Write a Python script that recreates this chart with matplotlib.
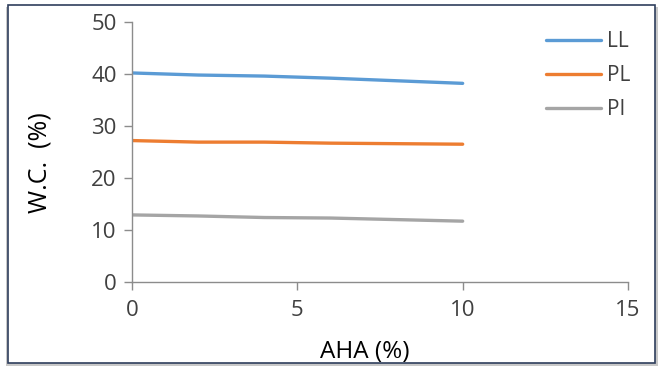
import matplotlib
matplotlib.use("Agg")
import matplotlib.pyplot as plt
from matplotlib.patches import Rectangle

plt.rcParams['font.family'] = ['Open Sans', 'DejaVu Sans']

aha = [0, 2, 4, 6, 8, 10]
ll = [40.2, 39.8, 39.6, 39.2, 38.7, 38.2]
pl = [27.2, 26.9, 26.9, 26.7, 26.6, 26.5]
pi = [12.9, 12.7, 12.4, 12.3, 12.0, 11.7]
series = [("LL", ll, "#5B9BD5"), ("PL", pl, "#ED7D31"), ("PI", pi, "#A5A5A5")]

fig = plt.figure(figsize=(6.64, 3.70), dpi=100)
W, H = 664, 370
ax = fig.add_axes([132 / W, 1 - 282 / H, (628 - 132) / W, (282 - 22) / H])

for name, vals, col in series:
    ax.plot(aha, vals, color=col, lw=2.4, label=name, solid_capstyle='round')

ax.set_xlim(0, 15)
ax.set_ylim(0, 50)
ax.set_xticks([0, 5, 10, 15])
ax.set_yticks([0, 10, 20, 30, 40, 50])
for s in ['top', 'right']:
    ax.spines[s].set_visible(False)
for s in ['left', 'bottom']:
    ax.spines[s].set_color('#8C8C8C')
    ax.spines[s].set_linewidth(1.0)
ax.tick_params(axis='both', colors='#8C8C8C', labelcolor='#404040', labelsize=16, length=6, width=1.0, direction='out')
ax.tick_params(axis='x', pad=7)
ax.tick_params(axis='y', pad=5)

fig.text(365 / W, 1 - 352 / H, "AHA (%)", ha='center', va='center', fontsize=17.5, color='#000000')
fig.text(40 / W, 1 - 163 / H, "W.C.  (%)", ha='center', va='center', fontsize=18, rotation=90, color='#000000')

leg = fig.legend(loc='upper left', bbox_to_anchor=(536 / W, 1 - 21 / H), frameon=False,
                 fontsize=15, handlelength=2.6, handletextpad=0.3, labelspacing=0.62, borderpad=0)
for t in leg.get_texts():
    t.set_color('#404040')

# outer frame with shadow
fig.patches.append(Rectangle((6 / W, 1 - 366 / H), (658 - 6) / W, (366 - 7) / H,
                             transform=fig.transFigure, fill=True, facecolor='#C8C8C8', edgecolor='none', zorder=-2))
fig.patches.append(Rectangle((8 / W, 1 - 363 / H), (655 - 8) / W, (363 - 5) / H,
                             transform=fig.transFigure, fill=True, facecolor='white', edgecolor='#2F3E5C', lw=1.2, zorder=-1))

fig.savefig("out.png", dpi=100)
